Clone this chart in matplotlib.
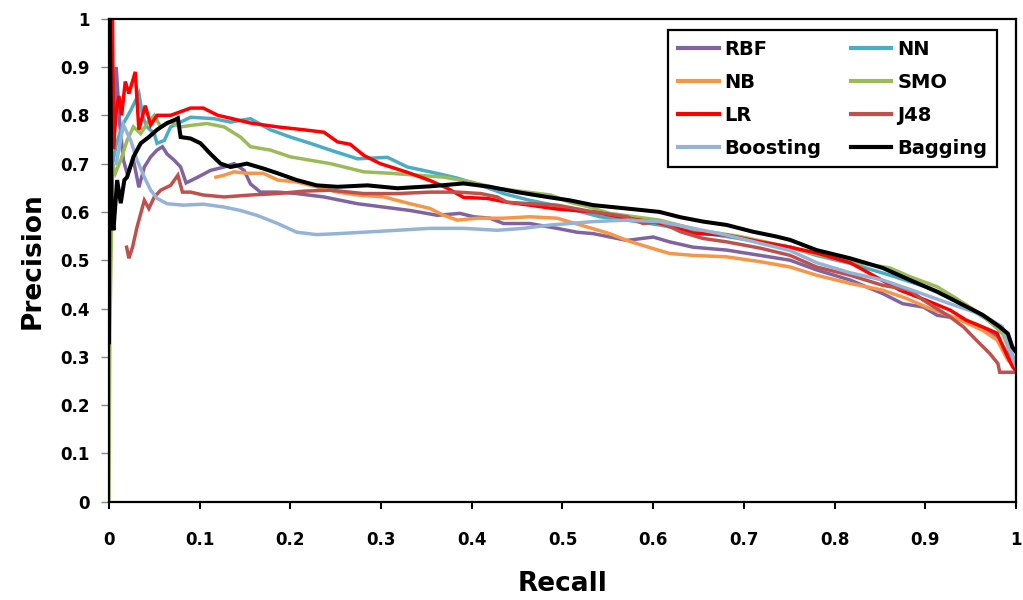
import matplotlib
matplotlib.use("Agg")
import matplotlib.pyplot as plt
from matplotlib.ticker import FuncFormatter

# Precision-recall curves
rbf_x = [0.005, 0.008, 0.012, 0.016, 0.020, 0.027, 0.033, 0.039, 0.046, 0.053, 0.059, 0.064, 0.072,
         0.079, 0.085, 0.098, 0.112, 0.127, 0.138, 0.149, 0.156, 0.167, 0.186, 0.207, 0.237, 0.266,
         0.274, 0.303, 0.332, 0.362, 0.387, 0.402, 0.420, 0.435, 0.464, 0.494, 0.516, 0.534, 0.571,
         0.600, 0.618, 0.644, 0.681, 0.718, 0.751, 0.780, 0.817, 0.853, 0.875, 0.898, 0.913, 0.934,
         0.956, 0.979, 0.993, 1.0]
rbf_y = [0.74, 0.90, 0.78, 0.707, 0.68, 0.707, 0.651, 0.693, 0.714, 0.728, 0.735, 0.72, 0.707,
         0.693, 0.66, 0.672, 0.686, 0.693, 0.70, 0.686, 0.658, 0.641, 0.641, 0.638, 0.631, 0.62,
         0.617, 0.61, 0.603, 0.593, 0.597, 0.59, 0.587, 0.576, 0.576, 0.566, 0.558, 0.555, 0.541,
         0.548, 0.538, 0.527, 0.521, 0.51, 0.50, 0.48, 0.459, 0.431, 0.41, 0.403, 0.386, 0.38,
         0.366, 0.341, 0.30, 0.29]

nn_x = [0.004, 0.008, 0.015, 0.024, 0.033, 0.037, 0.042, 0.050, 0.053, 0.061, 0.068, 0.090, 0.116,
        0.134, 0.156, 0.178, 0.200, 0.222, 0.244, 0.274, 0.307, 0.329, 0.354, 0.384, 0.410, 0.435,
        0.464, 0.501, 0.541, 0.571, 0.607, 0.644, 0.681, 0.718, 0.751, 0.780, 0.820, 0.861, 0.900,
        0.940, 0.970, 0.990, 1.0]
nn_y = [0.70, 0.74, 0.78, 0.81, 0.845, 0.80, 0.776, 0.762, 0.742, 0.748, 0.776, 0.796, 0.793,
        0.786, 0.793, 0.77, 0.755, 0.742, 0.728, 0.71, 0.713, 0.693, 0.683, 0.67, 0.655, 0.638,
        0.624, 0.61, 0.59, 0.583, 0.573, 0.559, 0.549, 0.538, 0.527, 0.51, 0.492, 0.469, 0.445,
        0.41, 0.375, 0.34, 0.28]

nb_x = [0.118, 0.127, 0.138, 0.152, 0.170, 0.186, 0.207, 0.229, 0.252, 0.274, 0.303, 0.332, 0.354,
        0.369, 0.384, 0.406, 0.435, 0.464, 0.494, 0.527, 0.552, 0.571, 0.593, 0.618, 0.644, 0.681,
        0.718, 0.751, 0.780, 0.817, 0.853, 0.879, 0.905, 0.934, 0.963, 0.979, 0.991, 1.0]
nb_y = [0.672, 0.676, 0.683, 0.68, 0.68, 0.666, 0.662, 0.652, 0.641, 0.635, 0.631, 0.617, 0.607,
        0.593, 0.583, 0.587, 0.587, 0.59, 0.587, 0.569, 0.555, 0.541, 0.528, 0.514, 0.51, 0.507,
        0.497, 0.486, 0.469, 0.452, 0.438, 0.421, 0.40, 0.38, 0.355, 0.335, 0.293, 0.28]

smo_x = [0.0, 0.001, 0.004, 0.007, 0.013, 0.020, 0.027, 0.035, 0.042, 0.050, 0.057, 0.068, 0.079,
         0.090, 0.108, 0.127, 0.145, 0.156, 0.178, 0.200, 0.222, 0.244, 0.281, 0.310, 0.340, 0.369,
         0.399, 0.428, 0.457, 0.487, 0.508, 0.530, 0.552, 0.607, 0.651, 0.696, 0.751, 0.780, 0.820,
         0.861, 0.883, 0.913, 0.934, 0.960, 0.985, 1.0]
smo_y = [0.0, 0.35, 0.70, 0.68, 0.707, 0.748, 0.776, 0.762, 0.783, 0.80, 0.776, 0.786, 0.776,
         0.779, 0.783, 0.776, 0.755, 0.735, 0.728, 0.714, 0.707, 0.70, 0.683, 0.68, 0.676, 0.672,
         0.662, 0.649, 0.642, 0.635, 0.62, 0.61, 0.597, 0.583, 0.562, 0.549, 0.527, 0.512, 0.497,
         0.484, 0.466, 0.445, 0.421, 0.39, 0.35, 0.28]

lr_x = [0.004, 0.005, 0.008, 0.011, 0.014, 0.018, 0.022, 0.029, 0.033, 0.040, 0.046, 0.053, 0.068,
        0.090, 0.104, 0.120, 0.134, 0.156, 0.186, 0.215, 0.237, 0.252, 0.266, 0.281, 0.299, 0.329,
        0.354, 0.373, 0.391, 0.417, 0.439, 0.464, 0.494, 0.534, 0.571, 0.607, 0.644, 0.681, 0.718,
        0.751, 0.780, 0.817, 0.846, 0.872, 0.901, 0.927, 0.945, 0.963, 0.979, 0.989, 0.996, 1.0]
lr_y = [1.0, 0.73, 0.81, 0.84, 0.80, 0.87, 0.845, 0.89, 0.77, 0.82, 0.78, 0.80, 0.80,
        0.815, 0.815, 0.80, 0.794, 0.784, 0.776, 0.77, 0.765, 0.745, 0.74, 0.717, 0.70, 0.682,
        0.665, 0.649, 0.63, 0.628, 0.62, 0.614, 0.606, 0.60, 0.587, 0.577, 0.556, 0.552, 0.538,
        0.527, 0.515, 0.495, 0.465, 0.438, 0.417, 0.397, 0.376, 0.362, 0.349, 0.307, 0.28, 0.27]

j48_x = [0.0195, 0.022, 0.026, 0.031, 0.039, 0.044, 0.050, 0.057, 0.068, 0.076, 0.081, 0.090, 0.104,
         0.127, 0.156, 0.186, 0.215, 0.244, 0.281, 0.318, 0.354, 0.384, 0.410, 0.428, 0.439, 0.464,
         0.494, 0.534, 0.571, 0.589, 0.607, 0.630, 0.655, 0.681, 0.718, 0.751, 0.780, 0.817, 0.853,
         0.883, 0.898, 0.927, 0.942, 0.956, 0.971, 0.980, 0.982, 1.0]
j48_y = [0.527, 0.504, 0.527, 0.569, 0.624, 0.607, 0.631, 0.645, 0.655, 0.676, 0.641, 0.641, 0.635,
         0.631, 0.635, 0.638, 0.643, 0.645, 0.638, 0.638, 0.641, 0.641, 0.638, 0.631, 0.62, 0.617,
         0.614, 0.60, 0.59, 0.576, 0.58, 0.559, 0.545, 0.538, 0.525, 0.51, 0.486, 0.469, 0.448,
         0.438, 0.417, 0.383, 0.362, 0.335, 0.307, 0.286, 0.268, 0.268]

boost_x = [0.008, 0.016, 0.024, 0.031, 0.039, 0.046, 0.053, 0.064, 0.082, 0.104, 0.127, 0.145,
           0.163, 0.186, 0.207, 0.229, 0.252, 0.281, 0.318, 0.354, 0.391, 0.428, 0.457, 0.487,
           0.508, 0.534, 0.571, 0.607, 0.644, 0.681, 0.718, 0.751, 0.780, 0.817, 0.853, 0.890,
           0.927, 0.963, 0.985, 0.996, 1.0]
boost_y = [0.70, 0.78, 0.748, 0.707, 0.672, 0.645, 0.628, 0.617, 0.614, 0.616, 0.61, 0.603,
           0.593, 0.576, 0.558, 0.553, 0.555, 0.558, 0.562, 0.566, 0.566, 0.562, 0.566, 0.573,
           0.576, 0.58, 0.583, 0.58, 0.566, 0.552, 0.535, 0.52, 0.495, 0.474, 0.459, 0.435,
           0.41, 0.387, 0.362, 0.30, 0.28]

bag_x = [0.0, 0.001, 0.003, 0.005, 0.009, 0.013, 0.017, 0.020, 0.027, 0.035, 0.044, 0.053, 0.064,
         0.072, 0.076, 0.079, 0.090, 0.101, 0.112, 0.123, 0.134, 0.152, 0.170, 0.186, 0.207, 0.229,
         0.252, 0.285, 0.318, 0.354, 0.391, 0.420, 0.450, 0.483, 0.508, 0.534, 0.571, 0.607, 0.630,
         0.655, 0.681, 0.710, 0.736, 0.751, 0.780, 0.817, 0.853, 0.883, 0.913, 0.942, 0.963, 0.982,
         0.991, 0.996, 1.0]
bag_y = [0.33, 1.0, 0.60, 0.562, 0.666, 0.618, 0.666, 0.672, 0.714, 0.742, 0.755, 0.77, 0.784,
         0.79, 0.794, 0.755, 0.752, 0.742, 0.72, 0.70, 0.693, 0.70, 0.69, 0.68, 0.666, 0.655,
         0.652, 0.655, 0.649, 0.653, 0.659, 0.652, 0.641, 0.631, 0.624, 0.614, 0.607, 0.60, 0.589,
         0.58, 0.573, 0.559, 0.549, 0.542, 0.521, 0.504, 0.484, 0.459, 0.435, 0.407, 0.387, 0.362,
         0.348, 0.32, 0.31]

names = ["RBF", "NN", "NB", "SMO", "LR", "J48", "Boosting", "Bagging"]
xs = [rbf_x, nn_x, nb_x, smo_x, lr_x, j48_x, boost_x, bag_x]
ys = [rbf_y, nn_y, nb_y, smo_y, lr_y, j48_y, boost_y, bag_y]
colors = ["#8064A2", "#4BACC6", "#F79646", "#9BBB59", "#FF0000", "#C0504D", "#95B3D7", "#000000"]
ticks = [0, 0.1, 0.2, 0.3, 0.4, 0.5, 0.6, 0.7, 0.8, 0.9, 1]

plt.rcParams['font.family'] = ['DejaVu Sans']
plt.rcParams['font.weight'] = 'bold'

fig = plt.figure(figsize=(10.23, 6.0), dpi=100)
ax = fig.add_axes([0.1065, 0.1638, 0.8867, 0.805])

lines = {}
for name, x, y, c in zip(names, xs, ys, colors):
    lw = 2.9 if name == "Bagging" else 2.5
    lines[name], = ax.plot(x, y, color=c, lw=lw, label=name, solid_joinstyle='miter')

ax.set_xlim(0, 1)
ax.set_ylim(0, 1)
ax.set_xticks(ticks)
ax.set_yticks(ticks)
fmt = FuncFormatter(lambda v, p: f"{v:g}")
ax.xaxis.set_major_formatter(fmt)
ax.yaxis.set_major_formatter(fmt)
ax.tick_params(axis='x', direction='out', length=5, width=1.5, color='black', pad=16,
               labelsize=12)
ax.tick_params(axis='y', direction='out', length=6, width=1, color='#888888', pad=8,
               labelsize=12)
for lab in ax.get_xticklabels() + ax.get_yticklabels():
    lab.set_fontweight('bold')
for s in ax.spines.values():
    s.set_linewidth(1.6)
    s.set_color('black')

ax.set_xlabel("Recall", fontsize=19, fontweight='bold', labelpad=16)
ax.set_ylabel("Precision", fontsize=19, fontweight='bold', labelpad=10)

# legend laid out in two columns, filled column by column
order = ["RBF", "NB", "LR", "Boosting", "NN", "SMO", "J48", "Bagging"]
leg = ax.legend([lines[n] for n in order], order, ncol=2, loc='upper right',
                bbox_to_anchor=(0.979, 0.977), borderaxespad=0, fancybox=False,
                edgecolor='black', framealpha=1, handlelength=2.1, handletextpad=0.3,
                labelspacing=0.72, columnspacing=1.5, borderpad=0.5,
                prop={'weight': 'bold', 'size': 14})
leg.get_frame().set_linewidth(1.6)
for h in leg.get_lines():
    h.set_linewidth(3)

fig.savefig("out.png", dpi=100)
